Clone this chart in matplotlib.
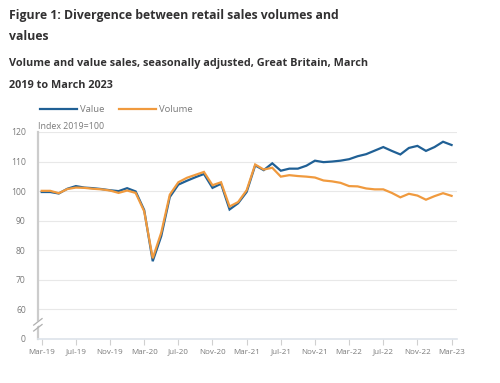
import numpy as np
import pandas as pd
import matplotlib
matplotlib.use("Agg")
import matplotlib.pyplot as plt

plt.rcParams['font.family'] = ['Open Sans', 'DejaVu Sans']

# monthly index, Mar-19 .. Mar-23 (2019=100)
months = pd.date_range("2019-03-01", "2023-03-01", freq="MS")
value = [99.7, 99.7, 99.2, 100.8, 101.7, 101.2, 101.0, 100.7, 100.3, 100.0, 101.0, 99.9,
         93.6, 76.3, 84.8, 98.0, 102.2, 103.5, 104.7, 105.8, 101.1, 102.5, 93.8, 95.9,
         99.7, 108.7, 107.1, 109.4, 106.9, 107.6, 107.6, 108.6, 110.3, 109.8, 110.0, 110.3,
         110.8, 111.8, 112.5, 113.7, 114.9, 113.6, 112.4, 114.6, 115.3, 113.6, 114.9, 116.7,
         115.6]
volume = [100.1, 100.1, 99.3, 100.7, 101.2, 101.1, 100.8, 100.6, 100.2, 99.4, 100.2, 99.4,
          93.2, 77.3, 86.0, 98.8, 103.0, 104.5, 105.5, 106.5, 102.0, 103.0, 94.8, 96.3,
          100.3, 109.0, 107.3, 107.9, 104.9, 105.4, 105.1, 104.9, 104.6, 103.6, 103.3, 102.8,
          101.7, 101.6, 100.9, 100.6, 100.6, 99.4, 97.9, 99.1, 98.5, 97.1, 98.3, 99.3,
          98.4]
y_ticks = [50, 60, 70, 80, 90, 100, 110, 120]
y_labels = ["0", "60", "70", "80", "90", "100", "110", "120"]

blue = "#206095"
orange = "#f09a3e"
grey = "#7a7a7a"
dark = "#323132"

fig = plt.figure(figsize=(5.0, 3.83), dpi=100)
ax = fig.add_axes([0.0766, 0.1149, 0.8368, 0.5405])

x = np.arange(len(months))
ax.plot(x, value, color=blue, lw=1.6, label="Value", solid_joinstyle="miter")
ax.plot(x, volume, color=orange, lw=1.6, label="Volume", solid_joinstyle="miter")

ax.set_xlim(-0.4, 48.6)
ax.set_ylim(50, 120)
tick_pos = x[::4]
ax.set_xticks(tick_pos)
ax.set_xticklabels([m.strftime("%b-%y") for m in months[::4]])
ax.set_yticks(y_ticks)
ax.set_yticklabels(y_labels)
ax.tick_params(axis="x", length=4, width=0.8, color="#d0d0d0", labelsize=5.8,
               labelcolor=grey, pad=3)
ax.tick_params(axis="y", length=0, labelsize=6.2, labelcolor=grey, pad=9)

for yv in y_ticks[1:]:
    ax.axhline(yv, color="#e8e8e8", lw=0.8, zorder=0)

for s in ["top", "right"]:
    ax.spines[s].set_visible(False)
ax.spines["left"].set_color("#cccccc")
ax.spines["left"].set_linewidth(1.6)
ax.spines["bottom"].set_color("#dde3ea")
ax.spines["bottom"].set_linewidth(1.2)

# axis break marks
trans = ax.get_yaxis_transform()
ax.plot([-0.012, 0.012], [54.3, 56.3], transform=trans, color="white", lw=3,
        clip_on=False, zorder=5)
for yb in [53.6, 55.6]:
    ax.plot([-0.011, 0.009], [yb - 0.9, yb + 1.3], transform=trans, color="#b0b0b0",
            lw=0.9, clip_on=False, zorder=6)

ax.text(0.0, 120.4, "Index 2019=100", transform=trans, fontsize=6.4, color=grey,
        ha="left", va="bottom")

ax.legend(loc="center left", bbox_to_anchor=(0.08, 0.7128), bbox_transform=fig.transFigure,
          ncol=2, frameon=False, fontsize=6.8, labelcolor=grey, handlelength=3.9,
          handletextpad=0.35, columnspacing=1.5, borderpad=0, borderaxespad=0)

fig.text(0.018, 0.9608, "Figure 1: Divergence between retail sales volumes and",
         fontsize=8.8, fontweight="bold", color=dark, va="center")
fig.text(0.018, 0.906, "values", fontsize=8.8, fontweight="bold", color=dark, va="center")
fig.text(0.018, 0.8355, "Volume and value sales, seasonally adjusted, Great Britain, March",
         fontsize=7.8, fontweight="bold", color=dark, va="center")
fig.text(0.018, 0.778, "2019 to March 2023", fontsize=7.8, fontweight="bold", color=dark,
         va="center")

fig.savefig("out.png", dpi=100)
